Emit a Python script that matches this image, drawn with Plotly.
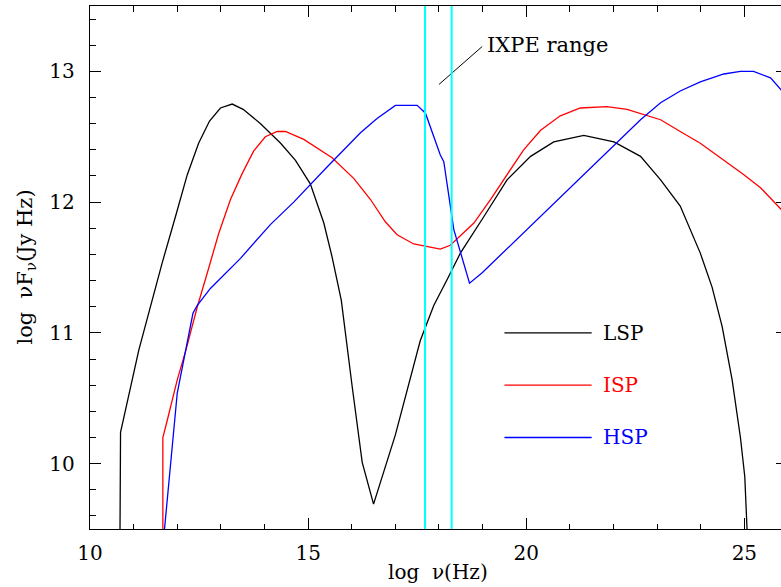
import plotly.graph_objects as go

# ---------------- data ----------------
lsp_x = [10.68, 10.70, 11.12, 11.65, 11.96, 12.23, 12.49, 12.74, 12.99, 13.26, 13.51,
         13.91, 14.37, 14.71, 15.05, 15.36, 15.55, 15.76, 16.01, 16.24, 16.50, 17.00,
         17.57, 17.88, 18.19, 18.49, 19.03, 19.56, 20.10, 20.63, 21.32, 22.01, 22.62,
         23.08, 23.53, 23.99, 24.26, 24.49, 24.72, 24.91, 25.01, 25.06, 25.07]
lsp_y = [9.00, 10.24, 10.87, 11.53, 11.89, 12.21, 12.45, 12.62, 12.72, 12.75, 12.71,
         12.60, 12.45, 12.32, 12.14, 11.84, 11.58, 11.25, 10.59, 10.01, 9.69, 10.22,
         10.94, 11.21, 11.41, 11.61, 11.89, 12.17, 12.35, 12.46, 12.51, 12.46, 12.35,
         12.17, 11.97, 11.61, 11.35, 11.05, 10.64, 10.20, 9.90, 9.51, 9.00]

isp_x = [11.67, 11.67, 11.77, 12.00, 12.20, 12.46, 12.69, 12.95, 13.22, 13.49, 13.75,
         14.02, 14.29, 14.48, 14.90, 15.55, 16.05, 16.43, 16.77, 17.04, 17.42, 17.73,
         18.03, 18.26, 18.49, 18.80, 19.18, 19.56, 19.94, 20.33, 20.78, 21.24, 21.85,
         22.31, 22.62, 23.08, 23.53, 23.99, 24.53, 24.99, 25.37, 25.85, 26.00]
isp_y = [9.00, 10.20, 10.33, 10.64, 10.87, 11.20, 11.46, 11.76, 12.02, 12.22, 12.39,
         12.50, 12.54, 12.54, 12.48, 12.34, 12.18, 12.02, 11.85, 11.75, 11.68, 11.66,
         11.64, 11.67, 11.74, 11.84, 12.02, 12.21, 12.40, 12.55, 12.66, 12.72, 12.73,
         12.71, 12.68, 12.63, 12.54, 12.45, 12.32, 12.21, 12.11, 11.94, 11.89]

hsp_x = [11.68, 12.00, 12.36, 12.46, 12.76, 13.45, 14.14, 14.67, 15.44, 16.20, 16.58,
         17.00, 17.50, 17.69, 18.03, 18.11, 18.34, 18.70, 18.99, 22.62, 23.08, 23.53,
         23.99, 24.53, 24.91, 25.21, 25.60, 25.85, 26.00]
hsp_y = [9.40, 10.54, 11.15, 11.21, 11.34, 11.57, 11.83, 12.00, 12.27, 12.53, 12.64,
         12.74, 12.74, 12.68, 12.36, 12.31, 11.79, 11.38, 11.46, 12.63, 12.76, 12.85,
         12.92, 12.98, 13.00, 13.00, 12.95, 12.86, 12.80]

ixpe_range = [17.68, 18.29]          # log nu of 2 keV and 8 keV
ixpe_label = "IXPE range"
ixpe_label_pos = [19.06, 13.20]
ixpe_pointer_x = [18.00, 18.99]
ixpe_pointer_y = [12.90, 13.19]

legend_names = ["LSP", "ISP", "HSP"]
legend_colors = ["#000000", "#ff0000", "#0000ff"]
legend_y = [11.0, 10.6, 10.2]
legend_line_x = [19.50, 21.50]
legend_text_x = 21.72

x_range = [10, 25.84]
y_range = [9.5, 13.5]

FONT = "DejaVu Serif"

# ---------------- figure ----------------
fig = go.Figure()
series = [(lsp_x, lsp_y), (isp_x, isp_y), (hsp_x, hsp_y)]
for (xs, ys), c, n in zip(series, legend_colors, legend_names):
    fig.add_trace(go.Scatter(x=xs, y=ys, mode="lines", name=n,
                             line=dict(color=c, width=1.3), showlegend=False,
                             hoverinfo="skip"))

# legend samples drawn inside the plot
for yy, c, n in zip(legend_y, legend_colors, legend_names):
    fig.add_trace(go.Scatter(x=legend_line_x, y=[yy, yy], mode="lines",
                             line=dict(color=c, width=1.3), showlegend=False,
                             hoverinfo="skip"))
    fig.add_annotation(x=legend_text_x, y=yy, text=n, showarrow=False,
                       xanchor="left", yanchor="middle",
                       font=dict(family=FONT, size=20, color=c))

# IXPE band edges (on the overlaid right axis so that it gets drawn)
for v in ixpe_range:
    fig.add_trace(go.Scatter(x=[v, v], y=y_range, mode="lines", yaxis="y2",
                             line=dict(color="#00ffff", width=2), showlegend=False,
                             hoverinfo="skip"))

fig.add_trace(go.Scatter(x=ixpe_pointer_x, y=ixpe_pointer_y, mode="lines",
                         line=dict(color="black", width=1), showlegend=False,
                         hoverinfo="skip"))
fig.add_annotation(x=ixpe_label_pos[0], y=ixpe_label_pos[1], text=ixpe_label,
                   showarrow=False, xanchor="left", yanchor="middle",
                   font=dict(family=FONT, size=21, color="black"))

# axis titles
fig.add_annotation(xref="paper", yref="paper", x=0.5036, y=-0.082,
                   text="log\u00a0\u00a0\u03bd(Hz)", showarrow=False,
                   xanchor="center", yanchor="middle",
                   font=dict(family=FONT, size=20, color="black"))
fig.add_annotation(xref="paper", yref="paper", x=-0.094, y=0.5,
                   text="log\u00a0\u00a0\u03bdF<sub>\u03bd</sub>(Jy Hz)", showarrow=False,
                   textangle=-90, xanchor="center", yanchor="middle",
                   font=dict(family=FONT, size=21, color="black"))

axis_common = dict(showgrid=False, zeroline=False, ticks="inside", ticklen=11,
                   tickwidth=1, tickcolor="black", showline=True,
                   linecolor="black", linewidth=1.3)

fig.update_layout(
    width=781, height=587,
    margin=dict(l=90, r=0, t=6, b=58),
    plot_bgcolor="white", paper_bgcolor="white",
    font=dict(family=FONT, size=20, color="black"),
    showlegend=False,
    hovermode=False,
    xaxis=dict(range=x_range, tick0=10, dtick=5, mirror="ticks",
               ticklabelstandoff=6,
               minor=dict(tick0=10, dtick=1, ticks="inside", ticklen=5.5,
                          tickcolor="black", showgrid=False),
               **axis_common),
    yaxis=dict(range=y_range, tick0=10, dtick=1, mirror=False,
               ticklabelstandoff=10,
               minor=dict(tick0=9.6, dtick=0.2, ticks="inside", ticklen=5.5,
                          tickcolor="black", showgrid=False),
               **axis_common),
    yaxis2=dict(range=y_range, overlaying="y", side="right", tick0=10, dtick=1,
                ticks="inside", ticklen=5, tickcolor="black", showticklabels=False,
                showline=False, showgrid=False, zeroline=False),
)

# place the figure flush with the window (no default body margin / scrollbars)
fig.write_html(
    "out.html",
    config={"displayModeBar": False, "staticPlot": True},
    post_script="document.body.style.margin='0';"
                "document.body.style.overflow='hidden';"
                "document.documentElement.style.overflow='hidden';",
)
